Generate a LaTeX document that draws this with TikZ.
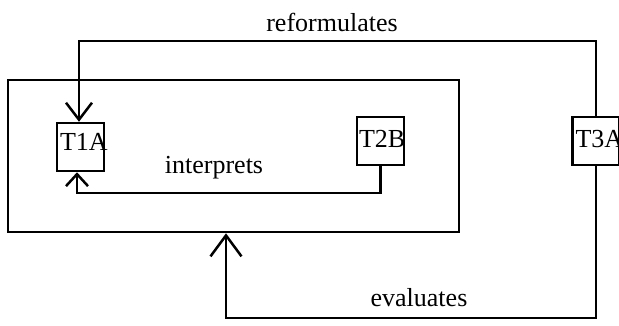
\documentclass[tikz,border=0pt]{standalone}
\usepackage{fontspec}
\setmainfont{Liberation Serif}
\usetikzlibrary{arrows.meta,calc}
\begin{document}
\begin{tikzpicture}[x=1pt,y=1pt,line width=2.5pt,
  tbox/.style={draw,rectangle,minimum width=47pt,minimum height=48pt,inner sep=0pt},
  txt/.style={font=\fontsize{26}{30}\selectfont,inner sep=0pt,anchor=base},
  conn/.style={draw,line cap=butt,line join=miter}]
\useasboundingbox (0,0) rectangle (619,-325);
\node[draw,rectangle,minimum width=451pt,minimum height=152pt,inner sep=0pt] (outer) at (233.5,-156) {};
\node[tbox] (t1a) at (80.5,-147) {};
\node[tbox] (t2b) at (380.5,-141) {};
\node[tbox] (t3a) at (596,-141) {};
\node[txt,anchor=base west] (t1al) at ([xshift=3pt,yshift=-3pt]t1a.west) {T1A};
\node[txt,anchor=base west] (t2bl) at ([xshift=2pt,yshift=-6pt]t2b.west) {T2B};
\node[txt,anchor=base west] (t3al) at ([xshift=3pt,yshift=-6pt]t3a.west) {T3A};
\node[txt] (lref) at (332,-31) {reformulates};
\node[txt] (lint) at (214,-173) {interprets};
\node[txt] (leva) at (419,-306) {evaluates};
\coordinate (evtip) at ([xshift=-7.5pt]outer.south);
\coordinate (intip) at ([xshift=-3.5pt]t1a.south);
\draw[conn,-{Straight Barb[length=17pt,width=26pt]}] (t3a.north) -- (596,-41) -| ([xshift=-1.5pt]t1a.north);
\draw[conn,-{Straight Barb[length=12pt,width=22pt]}] (t2b.south) |- (77,-193) -- (intip);
\draw[conn,-{Straight Barb[length=21pt,width=31pt]}] (t3a.south) |- (226,-318) -- (evtip);
\end{tikzpicture}
\end{document}
